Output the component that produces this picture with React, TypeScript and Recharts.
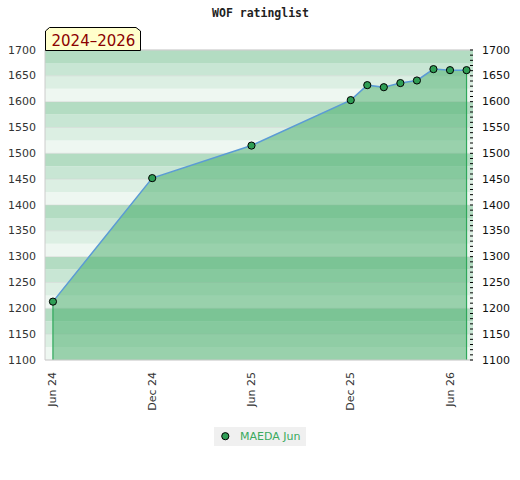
import React from "react";
import {
  ComposedChart,
  Area,
  Line,
  XAxis,
  YAxis,
  CartesianGrid,
  ReferenceArea,
  ReferenceLine,
} from "recharts";

// ---- data ----
const monthIndex = [0, 6, 12, 18, 19, 20, 21, 22, 23, 24, 25];
const ratings = [1213, 1452, 1515, 1603, 1632, 1628, 1636, 1641, 1663, 1661, 1661];
const seriesName = "MAEDA Jun";
const xTickValues = [0, 6, 12, 18, 24];
const xTickLabels = ["Jun 24", "Dec 24", "Jun 25", "Dec 25", "Jun 26"];
const yTicks = [1100, 1150, 1200, 1250, 1300, 1350, 1400, 1450, 1500, 1550, 1600, 1650, 1700];
const title = "WOF ratinglist";
const periodLabel = "2024–2026";

const yMin = yTicks[0];
const yMax = yTicks[yTicks.length - 1];
const minorStep = 10;
const rightTicks: number[] = [];
for (let v = yMin; v <= yMax; v += minorStep) rightTicks.push(v);

const bandColors = ["#eef7f1", "#dcefe3", "#c8e6d4", "#b3dcc2"];
const bands: { lo: number; hi: number; color: string }[] = [];
for (let i = 0; i < yTicks.length - 1; i++) {
  const lo = yTicks[i];
  const mid = (yTicks[i] + yTicks[i + 1]) / 2;
  const hi = yTicks[i + 1];
  const k = i % 2 === 0 ? 0 : 2;
  bands.push({ lo, hi: mid, color: bandColors[k] });
  bands.push({ lo: mid, hi, color: bandColors[k + 1] });
}

const data = monthIndex.map((m, i) => ({ m, v: ratings[i] }));
const first = data[0];
const last = data[data.length - 1];

const FONT = "'DejaVu Sans', sans-serif";

const XTick = (props: any) => {
  const { x, y, payload } = props;
  const idx = xTickValues.indexOf(payload.value);
  const label = idx >= 0 ? xTickLabels[idx] : "";
  const ty = y + 12;
  return (
    <text
      x={x}
      y={ty}
      transform={`rotate(-90, ${x}, ${ty})`}
      textAnchor="end"
      dominantBaseline="central"
      fontFamily={FONT}
      fontSize={11}
      fill="#333"
    >
      {label}
    </text>
  );
};

const LeftTick = (props: any) => {
  const { x, y, payload } = props;
  return (
    <text x={x} y={y} textAnchor="end" dominantBaseline="central" fontFamily={FONT} fontSize={11} fill="#333">
      {payload.value}
    </text>
  );
};

const RightTick = (props: any) => {
  const { x, y, payload } = props;
  const major = payload.value % 50 === 0;
  return (
    <g>
      <line x1={x - 3} x2={x} y1={y} y2={y} stroke="#000" strokeWidth={1} />
      {major ? (
        <text x={x + 9} y={y} textAnchor="start" dominantBaseline="central" fontFamily={FONT} fontSize={11} fill="#111">
          {payload.value}
        </text>
      ) : null}
    </g>
  );
};

const Dot = (props: any) => {
  const { cx, cy } = props;
  if (cx == null || cy == null) return null;
  return <circle cx={cx} cy={cy} r={3.6} fill="#2f9e55" stroke="#000" strokeWidth={1} />;
};

export default function App() {
  return (
    <div style={{ position: "absolute", left: 0, top: 0, width: 520, height: 480, background: "#fff" }}>
      <ComposedChart width={520} height={480} data={data} margin={{ top: 50, right: 0, bottom: 0, left: 0 }}>
        {bands.map((b, i) => (
          <ReferenceArea
            key={i}
            yAxisId="left"
            y1={b.lo}
            y2={b.hi}
            fill={b.color}
            fillOpacity={1}
            stroke="none"
            ifOverflow="hidden"
            {...({ zIndex: -200 } as any)}
          />
        ))}
        <CartesianGrid yAxisId="left" vertical={false} stroke="#d4d4d4" strokeOpacity={0.5} />
        <XAxis
          dataKey="m"
          type="number"
          domain={[-0.48, 25.39]}
          ticks={xTickValues}
          allowDataOverflow
          height={120}
          tickSize={0}
          tickMargin={0}
          tickLine={false}
          axisLine={{ stroke: "#ccc" }}
          tick={<XTick />}
          interval={0}
        />
        <YAxis
          yAxisId="left"
          orientation="left"
          width={45}
          domain={[yMin, yMax]}
          ticks={yTicks}
          allowDataOverflow
          tickSize={0}
          tickMargin={9}
          tickLine={false}
          axisLine={{ stroke: "#ccc" }}
          tick={<LeftTick />}
          interval={0}
        />
        <YAxis
          yAxisId="right"
          orientation="right"
          width={47}
          domain={[yMin, yMax]}
          ticks={rightTicks}
          allowDataOverflow
          tickSize={0}
          tickMargin={0}
          tickLine={false}
          axisLine={false}
          tick={<RightTick />}
          interval={0}
        />
        <ReferenceLine yAxisId="left" y={yMax} stroke="#ccc" />
        <Area
          yAxisId="left"
          dataKey="v"
          type="linear"
          stroke="none"
          fill="#44ab67"
          fillOpacity={0.5}
          baseValue={yMin}
          isAnimationActive={false}
          dot={false}
          activeDot={false}
        />
        <ReferenceLine
          yAxisId="left"
          segment={[
            { x: first.m, y: yMin },
            { x: first.m, y: first.v },
          ]}
          stroke="#2ea85a"
          strokeWidth={1.2}
        />
        <ReferenceLine
          yAxisId="left"
          segment={[
            { x: last.m, y: yMin },
            { x: last.m, y: last.v },
          ]}
          stroke="#2ea85a"
          strokeWidth={1.2}
        />
        <Line
          yAxisId="left"
          dataKey="v"
          name={seriesName}
          type="linear"
          stroke="#5b9bd5"
          strokeWidth={1.5}
          dot={<Dot />}
          activeDot={false}
          isAnimationActive={false}
        />
      </ComposedChart>
      <svg width={520} height={60} style={{ position: "absolute", left: 0, top: 0, pointerEvents: "none" }}>
        <text
          x={260.5}
          y={13}
          textAnchor="middle"
          dominantBaseline="central"
          fontFamily="'DejaVu Sans Mono', monospace"
          fontWeight="bold"
          fontSize={11.5}
          fill="#222"
        >
          {title}
        </text>
        <polygon points="45.5,50.5 45.5,31 49.5,27.5 136,27.5 140.5,31 140.5,50.5" fill="#ffffcc" stroke="#000" strokeWidth={1} />
        <text x={51.5} y={45.6} fontFamily={FONT} fontSize={15} fill="#8b0000">
          {periodLabel}
        </text>
      </svg>
      <div
        style={{
          position: "absolute",
          left: 214,
          top: 427,
          width: 92,
          height: 19,
          background: "#f0f0f0",
          fontFamily: FONT,
          fontSize: 11,
          color: "#3aaa5e",
        }}
      >
        <svg width={20} height={19} style={{ position: "absolute", left: 0, top: 0 }}>
          <circle cx={11.3} cy={9.2} r={3.6} fill="#2f9e55" stroke="#000" strokeWidth={1} />
        </svg>
        <span style={{ position: "absolute", left: 26, top: 2, lineHeight: "15px", whiteSpace: "nowrap" }}>{seriesName}</span>
      </div>
    </div>
  );
}
